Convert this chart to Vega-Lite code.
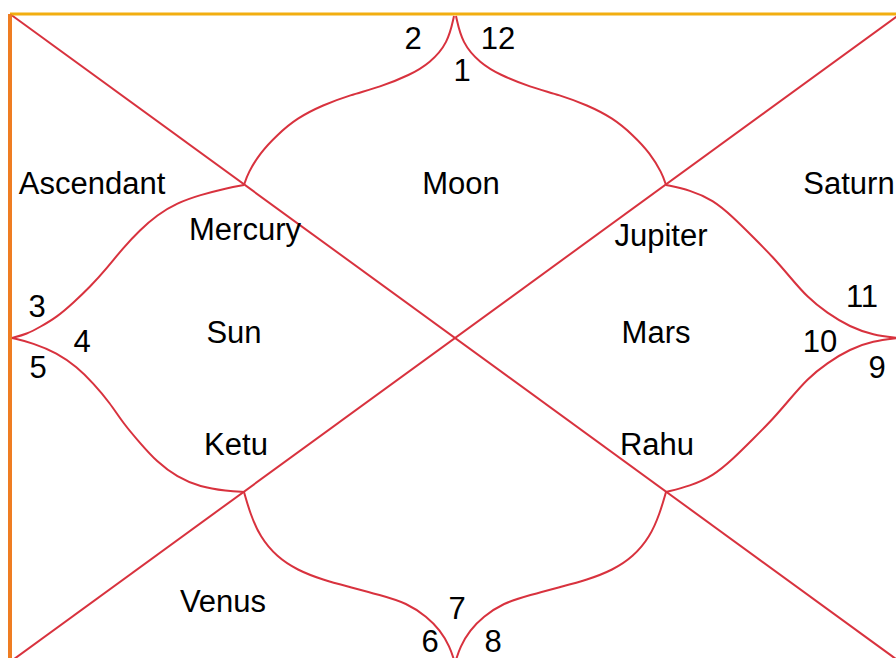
{
  "$schema": "https://vega.github.io/schema/vega-lite/v6.json",
  "width": 896,
  "height": 658,
  "autosize": {"type": "fit", "contains": "padding"},
  "padding": 0,
  "background": "white",
  "config": {"view": {"stroke": null}},
  "datasets": {
    "curves": [
      {"g":"c1","i":0,"x":454,"y":16},{"g":"c1","i":1,"x":448,"y":43},{"g":"c1","i":2,"x":430,"y":63},{"g":"c1","i":3,"x":410,"y":75},{"g":"c1","i":4,"x":380,"y":87},{"g":"c1","i":5,"x":350,"y":95},{"g":"c1","i":6,"x":323,"y":105},{"g":"c1","i":7,"x":297,"y":118},{"g":"c1","i":8,"x":277,"y":135},{"g":"c1","i":9,"x":260,"y":153},{"g":"c1","i":10,"x":248,"y":173},{"g":"c1","i":11,"x":244,"y":185},
      {"g":"c2","i":0,"x":456,"y":16},{"g":"c2","i":1,"x":462,"y":43},{"g":"c2","i":2,"x":480,"y":63},{"g":"c2","i":3,"x":500,"y":75},{"g":"c2","i":4,"x":530,"y":87},{"g":"c2","i":5,"x":560,"y":95},{"g":"c2","i":6,"x":587,"y":105},{"g":"c2","i":7,"x":613,"y":118},{"g":"c2","i":8,"x":633,"y":135},{"g":"c2","i":9,"x":650,"y":153},{"g":"c2","i":10,"x":662,"y":173},{"g":"c2","i":11,"x":666,"y":185},
      {"g":"c3","i":0,"x":12,"y":338},{"g":"c3","i":1,"x":27,"y":334},{"g":"c3","i":2,"x":40,"y":327},{"g":"c3","i":3,"x":57,"y":317},{"g":"c3","i":4,"x":73,"y":303},{"g":"c3","i":5,"x":90,"y":287},{"g":"c3","i":6,"x":107,"y":268},{"g":"c3","i":7,"x":123,"y":248},{"g":"c3","i":8,"x":140,"y":230},{"g":"c3","i":9,"x":157,"y":215},{"g":"c3","i":10,"x":177,"y":203},{"g":"c3","i":11,"x":200,"y":195},{"g":"c3","i":12,"x":227,"y":188},{"g":"c3","i":13,"x":244,"y":185},
      {"g":"c4","i":0,"x":12,"y":338},{"g":"c4","i":1,"x":33,"y":343},{"g":"c4","i":2,"x":57,"y":353},{"g":"c4","i":3,"x":77,"y":367},{"g":"c4","i":4,"x":93,"y":383},{"g":"c4","i":5,"x":110,"y":403},{"g":"c4","i":6,"x":123,"y":423},{"g":"c4","i":7,"x":140,"y":443},{"g":"c4","i":8,"x":157,"y":462},{"g":"c4","i":9,"x":177,"y":477},{"g":"c4","i":10,"x":200,"y":487},{"g":"c4","i":11,"x":227,"y":491},{"g":"c4","i":12,"x":244,"y":492},
      {"g":"c5","i":0,"x":244,"y":492},{"g":"c5","i":1,"x":250,"y":513},{"g":"c5","i":2,"x":260,"y":537},{"g":"c5","i":3,"x":277,"y":557},{"g":"c5","i":4,"x":297,"y":570},{"g":"c5","i":5,"x":323,"y":580},{"g":"c5","i":6,"x":350,"y":587},{"g":"c5","i":7,"x":380,"y":595},{"g":"c5","i":8,"x":407,"y":603},{"g":"c5","i":9,"x":427,"y":617},{"g":"c5","i":10,"x":440,"y":630},{"g":"c5","i":11,"x":450,"y":647},{"g":"c5","i":12,"x":454,"y":660},
      {"g":"c6","i":0,"x":666,"y":492},{"g":"c6","i":1,"x":660,"y":513},{"g":"c6","i":2,"x":650,"y":537},{"g":"c6","i":3,"x":633,"y":557},{"g":"c6","i":4,"x":613,"y":570},{"g":"c6","i":5,"x":587,"y":580},{"g":"c6","i":6,"x":560,"y":587},{"g":"c6","i":7,"x":530,"y":595},{"g":"c6","i":8,"x":503,"y":603},{"g":"c6","i":9,"x":483,"y":617},{"g":"c6","i":10,"x":470,"y":630},{"g":"c6","i":11,"x":460,"y":647},{"g":"c6","i":12,"x":456,"y":660},
      {"g":"c7","i":0,"x":666,"y":185},{"g":"c7","i":1,"x":690,"y":190},{"g":"c7","i":2,"x":713,"y":200},{"g":"c7","i":3,"x":733,"y":217},{"g":"c7","i":4,"x":753,"y":237},{"g":"c7","i":5,"x":773,"y":257},{"g":"c7","i":6,"x":790,"y":277},{"g":"c7","i":7,"x":807,"y":297},{"g":"c7","i":8,"x":827,"y":313},{"g":"c7","i":9,"x":850,"y":327},{"g":"c7","i":10,"x":873,"y":335},{"g":"c7","i":11,"x":898,"y":338},
      {"g":"c8","i":0,"x":898,"y":338},{"g":"c8","i":1,"x":873,"y":341},{"g":"c8","i":2,"x":850,"y":349},{"g":"c8","i":3,"x":827,"y":363},{"g":"c8","i":4,"x":807,"y":379},{"g":"c8","i":5,"x":790,"y":399},{"g":"c8","i":6,"x":773,"y":419},{"g":"c8","i":7,"x":753,"y":439},{"g":"c8","i":8,"x":733,"y":459},{"g":"c8","i":9,"x":713,"y":476},{"g":"c8","i":10,"x":690,"y":486},{"g":"c8","i":11,"x":666,"y":492}
    ],
    "segments": [
      {"kind":"diag","x":10,"y":14,"x2":900,"y2":662},
      {"kind":"diag","x":10,"y":662,"x2":900,"y2":14},
      {"kind":"top","x":10,"y":14,"x2":896,"y2":14},
      {"kind":"left","x":10,"y":14,"x2":10,"y2":658}
    ],
    "labels": [
      {"t":"2","x":413,"y":40},{"t":"12","x":498,"y":40},{"t":"1","x":462,"y":72},
      {"t":"Ascendant","x":92,"y":185},{"t":"Moon","x":461,"y":185},{"t":"Saturn","x":849,"y":185},
      {"t":"Mercury","x":245,"y":231},{"t":"Jupiter","x":661,"y":237},
      {"t":"3","x":37,"y":308},{"t":"4","x":82,"y":343},{"t":"5","x":38,"y":369},
      {"t":"Sun","x":234,"y":334},{"t":"Mars","x":656,"y":334},
      {"t":"11","x":862,"y":298},{"t":"10","x":820,"y":343},{"t":"9","x":877,"y":369},
      {"t":"Ketu","x":236,"y":446},{"t":"Rahu","x":657,"y":446},
      {"t":"Venus","x":223,"y":603},{"t":"7","x":457,"y":610},{"t":"6","x":430,"y":643},{"t":"8","x":493,"y":643}
    ]
  },
  "layer": [
    {
      "data": {"name": "segments"},
      "mark": {"type": "rule", "clip": true},
      "encoding": {
        "x": {"field": "x", "type": "quantitative", "scale": {"domain": [0, 896], "range": [0, 896], "nice": false, "zero": false}, "axis": null},
        "y": {"field": "y", "type": "quantitative", "scale": {"domain": [0, 658], "range": [0, 658], "nice": false, "zero": false}, "axis": null},
        "x2": {"field": "x2"},
        "y2": {"field": "y2"},
        "color": {"field": "kind", "type": "nominal", "scale": {"domain": ["diag", "top", "left"], "range": ["#d8323e", "#f2ae10", "#ef7d22"]}, "legend": null},
        "strokeWidth": {"field": "kind", "type": "nominal", "scale": {"domain": ["diag", "top", "left"], "range": [2, 4, 3]}, "legend": null}
      }
    },
    {
      "data": {"name": "curves"},
      "mark": {"type": "line", "interpolate": "basis", "color": "#d8323e", "strokeWidth": 2, "clip": true},
      "encoding": {
        "x": {"field": "x", "type": "quantitative"},
        "y": {"field": "y", "type": "quantitative"},
        "detail": {"field": "g"},
        "order": {"field": "i", "type": "quantitative"}
      }
    },
    {
      "data": {"name": "labels"},
      "mark": {"type": "text", "font": "Liberation Sans", "fontSize": 31, "color": "black", "align": "center", "baseline": "middle"},
      "encoding": {
        "x": {"field": "x", "type": "quantitative"},
        "y": {"field": "y", "type": "quantitative"},
        "text": {"field": "t"}
      }
    }
  ]
}
